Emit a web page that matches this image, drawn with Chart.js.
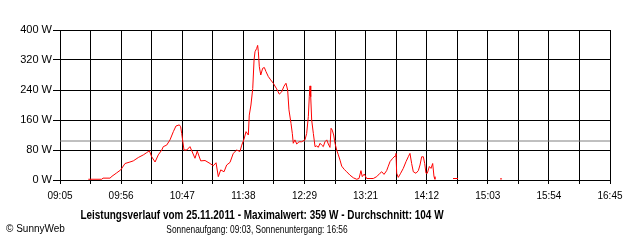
<!DOCTYPE html>
<html>
<head>
<meta charset="utf-8">
<script src="https://cdn.jsdelivr.net/npm/chart.js@4"></script>
<style>
  html, body { margin: 0; padding: 0; background: #fff; }
  #wrap { width: 640px; height: 240px; }
</style>
</head>
<body>
<div id="wrap"><canvas id="chart" width="640" height="240"></canvas></div>
<script>
// minutes after 09:05
const minutes = [
  23.7, 34.9, 36.0, 41.8, 43.5, 47.4, 50.8, 54.4, 58.5, 61.3, 65.5, 69.7, 72.5, 74.7, 76.7, 79.5,
  82.2, 85.1, 86.4, 89.2, 92.0, 94.8, 97.0, 99.8, 100.9, 101.8, 103.7, 106.0, 108.7, 112.9, 114.8,
  117.7, 121.3, 125.5, 128.2, 130.5, 132.4, 134.4, 137.2, 139.4, 142.2, 144.9, 147.8, 150.5, 152.0,
  153.9, 155.6, 157.5, 158.3, 159.7, 161.2, 162.3, 163.1, 164.5, 165.3, 165.9, 166.7, 167.9, 169.5,
  170.9, 172.3, 174.2, 176.2, 178.4, 181.2, 183.4, 185.4, 187.3, 189.0, 190.4, 191.5, 193.2, 194.3,
  195.1, 196.5, 198.0, 199.9, 202.1, 204.9, 206.3, 207.7, 208.5, 209.1, 209.7, 210.5, 211.9, 213.3,
  214.7, 216.0, 217.5, 218.9, 220.2, 221.6, 223.1, 224.4, 225.8, 226.7, 227.7, 228.9, 230.0, 231.4,
  232.8, 234.2, 235.6, 237.8, 239.8, 242.5, 245.3, 248.1, 250.1, 251.7, 252.8, 254.5, 256.5, 259.3,
  262.0, 264.9, 267.6, 269.1, 271.0, 273.2, 274.6, 276.0, 278.3, 280.2, 281.0, 281.6, 282.9, 284.9,
  287.1, 289.4, 291.3, 292.7, 294.1, 295.5, 297.7, 299.7, 301.1, 302.5, 303.9, 305.0, 306.1, 307.2,
  308.9, 310.3, 311.7, 312.8, 313.6, 320.0, 328.7, 332.9, 350.0, 368.0, 369.7, 375.0
];
const watts = [
  2, 2, 5, 5, 10, 19, 27, 44, 48, 51, 60, 67, 73, 78, 62, 48,
  67, 80, 89, 93, 107, 129, 144, 147, 142, 124, 80, 80, 89, 58, 77,
  51, 52, 44, 38, 46, 9, 27, 22, 40, 47, 71, 80, 76, 93,
  109, 129, 120, 173, 200, 244, 320, 342, 351, 359, 342, 302, 280, 298,
  300, 289, 276, 267, 258, 243, 229, 235, 250, 258, 240, 187, 151, 124,
  98, 107, 96, 102, 102, 107, 124, 169, 222, 251, 222, 160, 124, 89,
  91, 87, 98, 93, 89, 102, 107, 96, 87, 138, 133, 120, 98, 80,
  67, 53, 37, 28, 22, 13, 6, 2, 4, 25, 9, 16, 4, 4,
  4, 9, 18, 22, 15, 25, 37, 49, 58, 64, 71, 18, 7, 18,
  31, 49, 62, 71, 44, 22, 18, 25, 40, 62, 62, 44, 18, 18,
  36, 31, 44, 9, 2, null, 4, 4, null, 3, 3, null
];
const timeLabels = ["09:05", "09:56", "10:47", "11:38", "12:29", "13:21", "14:12", "15:03", "15:54", "16:45"];
const yTicks = [0, 80, 160, 240, 320, 400];
const average = 104;
const maximum = 359;

const span = 460; // 09:05 .. 16:45
const steps = 18;

// draws text squeezed horizontally, the original font is narrower
function squeezed(ctx, text, x, y, sx) {
  ctx.save();
  ctx.translate(x, y);
  ctx.scale(sx, 1);
  ctx.fillText(text, 0, 0);
  ctx.restore();
}

const textPlugin = {
  id: "texts",
  afterDraw(chart) {
    const ctx = chart.ctx;
    ctx.save();
    ctx.fillStyle = "#000";
    ctx.textBaseline = "middle";
    ctx.textAlign = "center";
    ctx.font = "bold 12px 'Liberation Sans', Arial, sans-serif";
    squeezed(ctx, "Leistungsverlauf vom 25.11.2011 - Maximalwert: " + maximum + " W - Durchschnitt: " + average + " W", 262, 216, 0.83);
    ctx.font = "11px 'Liberation Sans', Arial, sans-serif";
    squeezed(ctx, "Sonnenaufgang: 09:03, Sonnenuntergang: 16:56", 257, 230, 0.76);
    ctx.textAlign = "left";
    ctx.font = "10px 'Liberation Sans', Arial, sans-serif";
    ctx.fillText("\u00a9 SunnyWeb", 6, 229);
    ctx.restore();
  },
};

new Chart(document.getElementById("chart"), {
  type: "line",
  data: {
    datasets: [
      {
        label: "Leistung",
        data: minutes.map((m, i) => ({ x: m, y: watts[i] })),
        borderColor: "#ff0000",
        borderWidth: 1,
        pointRadius: 0,
        tension: 0,
        spanGaps: false,
        order: 0,
      },
      {
        label: "Durchschnitt",
        data: [{ x: 0, y: average }, { x: span, y: average }],
        borderColor: "#808080",
        borderWidth: 1,
        pointRadius: 0,
        order: 1,
      },
    ],
  },
  options: {
    responsive: false,
    animation: false,
    events: [],
    layout: { padding: { top: 30, right: 30, bottom: 0, left: 0 } },
    plugins: { legend: { display: false }, tooltip: { enabled: false } },
    scales: {
      x: {
        type: "linear",
        min: 0,
        max: span,
        afterBuildTicks: (scale) => {
          scale.ticks = [];
          for (let i = 0; i <= steps; i++) scale.ticks.push({ value: (i * span) / steps });
        },
        afterFit: (scale) => { scale.height = 60; },
        grid: { color: "#000", lineWidth: 1, tickLength: 4 },
        border: { color: "#000" },
        ticks: {
          autoSkip: false,
          maxRotation: 0,
          padding: 6,
          color: "#000",
          font: { family: "'Liberation Sans', Arial", size: 10 },
          callback: (v, i) => (i % 2 === 0 ? timeLabels[i / 2] : ""),
        },
      },
      y: {
        min: 0,
        max: 400,
        afterBuildTicks: (scale) => { scale.ticks = yTicks.map((v) => ({ value: v })); },
        afterFit: (scale) => { scale.width = 60; },
        grid: { color: "#000", lineWidth: 1, tickLength: 7 },
        border: { color: "#000" },
        ticks: {
          padding: 1,
          color: "#000",
          font: { family: "'Liberation Sans', Arial", size: 11 },
          callback: (v) => v + " W",
        },
      },
    },
  },
  plugins: [textPlugin],
});
</script>
</body>
</html>
